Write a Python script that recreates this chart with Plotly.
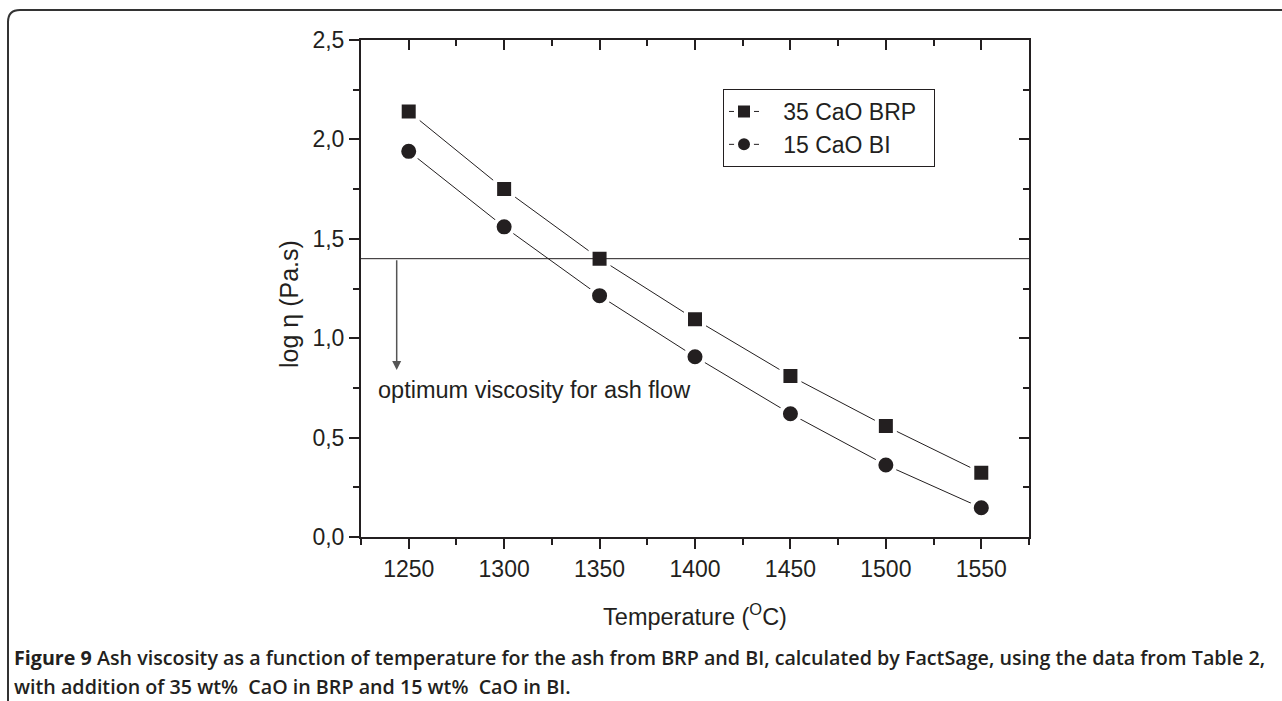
import plotly.graph_objects as go

# ---- data ----
temperature = [1250, 1300, 1350, 1400, 1450, 1500, 1550]
brp_35cao = [2.14, 1.75, 1.40, 1.095, 0.81, 0.558, 0.323]
bi_15cao = [1.94, 1.56, 1.214, 0.907, 0.62, 0.362, 0.147]
series_names = ["35 CaO BRP", "15 CaO BI"]
optimum_log_eta = 1.40
arrow_x = 1243.7
arrow_end = 0.84
x_ticks = [1250, 1300, 1350, 1400, 1450, 1500, 1550]
y_ticks = [0.0, 0.5, 1.0, 1.5, 2.0, 2.5]

W, H = 1282, 701
L, R, T, B = 361, 1029, 40, 537


def px(xp):
    return (xp - L) / (R - L)


def py(yp):
    return (B - yp) / (B - T)


AX = "#231f20"
FONT = "Liberation Sans, Arial, sans-serif"
NB = "\u00a0"

fig = go.Figure()
fig.add_trace(go.Scatter(
    x=temperature, y=brp_35cao, name=NB * 3 + series_names[0] + NB * 2, mode="lines+markers",
    line=dict(color=AX, width=1),
    marker=dict(symbol="square", size=18, color=AX, line=dict(color="white", width=4)),
))
fig.add_trace(go.Scatter(
    x=temperature, y=bi_15cao, name=NB * 3 + series_names[1], mode="lines+markers",
    line=dict(color=AX, width=1),
    marker=dict(symbol="circle", size=19, color=AX, line=dict(color="white", width=4)),
))
# dummy trace for mirrored axes
fig.add_trace(go.Scatter(x=[None], y=[None], xaxis="x2", yaxis="y2", showlegend=False))

common_x = dict(range=[1225, 1575], tickvals=x_ticks, showgrid=False, zeroline=False,
                showline=True, linecolor=AX, linewidth=2, tickcolor=AX, tickwidth=2, ticklen=10)
common_y = dict(range=[0, 2.5], tickvals=y_ticks, showgrid=False, zeroline=False,
                showline=True, linecolor=AX, linewidth=2, tickcolor=AX, tickwidth=2, ticklen=10)

fig.update_layout(
    width=W, height=H,
    margin=dict(l=L, r=W - R, t=T, b=H - B),
    paper_bgcolor="white", plot_bgcolor="white",
    separators=",.",
    font=dict(family=FONT, color=AX, size=23),
    xaxis=dict(**common_x, ticks="outside",
               minor=dict(ticks="outside", ticklen=6, dtick=25, tick0=1225, tickcolor=AX, tickwidth=2),
               tickfont=dict(size=23),
               title=dict(text="Temperature (<sup>O</sup>C)", font=dict(size=23.5), standoff=28)),
    yaxis=dict(**common_y, ticks="outside", tickformat=".1f",
               minor=dict(ticks="outside", ticklen=6, dtick=0.25, tickcolor=AX, tickwidth=2),
               tickfont=dict(size=23)),
    xaxis2=dict(**common_x, overlaying="x", side="top", ticks="inside", showticklabels=False,
                minor=dict(ticks="inside", ticklen=6, dtick=25, tick0=1225, tickcolor=AX, tickwidth=2)),
    yaxis2=dict(**common_y, overlaying="y", side="right", ticks="inside", showticklabels=False,
                minor=dict(ticks="inside", ticklen=6, dtick=0.25, tickcolor=AX, tickwidth=2)),
    legend=dict(x=px(723), y=py(89), xanchor="left", yanchor="top",
                bordercolor=AX, borderwidth=1, bgcolor="white",
                font=dict(size=23, family=FONT), tracegroupgap=0),
    showlegend=True,
)

# y-axis title (placed as in the reference, slightly below the axis middle)
fig.add_annotation(x=px(289), y=py(304), xref="paper", yref="paper", xanchor="center", yanchor="middle",
                   text="log η (Pa.s)", textangle=-90, showarrow=False,
                   font=dict(size=25, family=FONT, color=AX))

# optimum viscosity horizontal line
fig.add_shape(type="line", xref="paper", yref="y", x0=0, x1=1,
              y0=optimum_log_eta, y1=optimum_log_eta, line=dict(color=AX, width=1))
# arrow
fig.add_annotation(x=arrow_x, y=arrow_end, ax=arrow_x, ay=optimum_log_eta,
                   xref="x", yref="y", axref="x", ayref="y", text="",
                   showarrow=True, arrowhead=2, arrowsize=1.2, arrowwidth=1.5, arrowcolor="#555")
fig.add_annotation(x=px(376), y=py(390), xref="paper", yref="paper", xanchor="left", yanchor="middle",
                   text="optimum viscosity for ash flow", showarrow=False,
                   font=dict(size=23.5, family=FONT, color=AX))

# outer rounded frame
r = 12
frame = (f"M {px(1300)},{py(10)} L {px(8 + r)},{py(10)} "
         f"Q {px(8)},{py(10)} {px(8)},{py(10 + r)} L {px(8)},{py(720)}")
fig.add_shape(type="path", xref="paper", yref="paper", path=frame,
              line=dict(color="#333", width=2), layer="above")

# caption
CAP = "Open Sans, Liberation Sans, sans-serif"
fig.add_annotation(x=px(12), y=py(657), xref="paper", yref="paper", xanchor="left", yanchor="middle",
                   showarrow=False, align="left",
                   text="<b>Figure 9</b> Ash viscosity as a function of temperature for the ash from BRP and BI, calculated by FactSage, using the data from Table 2,",
                   font=dict(size=19.7, family=CAP, color="#231f20", weight=600))
fig.add_annotation(x=px(12), y=py(686), xref="paper", yref="paper", xanchor="left", yanchor="middle",
                   showarrow=False, align="left",
                   text="with addition of 35 wt%  CaO in BRP and 15 wt%  CaO in BI.",
                   font=dict(size=19.7, family=CAP, color="#231f20", weight=600))

fig.write_html("out.html", config={"displayModeBar": False},
               post_script="document.body.style.margin='0px';document.body.style.overflow='hidden';")
